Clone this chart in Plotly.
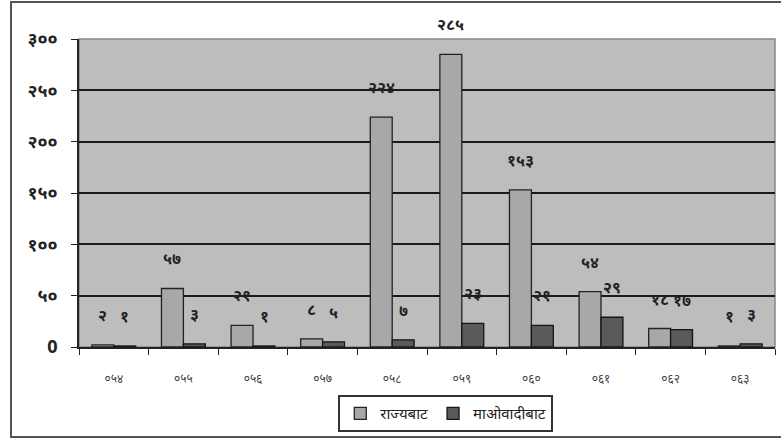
import plotly.graph_objects as go

categories = ["०५४", "०५५", "०५६", "०५७", "०५८", "०५९", "०६०", "०६१", "०६२", "०६३"]
state_vals = [2, 57, 21, 8, 224, 285, 153, 54, 18, 1]
maoist_vals = [1, 3, 1, 5, 7, 23, 21, 29, 17, 3]
state_name = "राज्यबाट"
maoist_name = "माओवादीबाट"
y_tickvals = [0, 50, 100, 150, 200, 250, 300]
y_ticktext = ["0", "५०", "१००", "१५०", "२००", "२५०", "३००"]

dev_digits = str.maketrans("0123456789", "०१२३४५६७८९")

def dev(n):
    return str(n).translate(dev_digits)

FONT = "Noto Sans, Noto Sans CJK SC, sans-serif"

fig = go.Figure()
fig.add_trace(go.Bar(
    x=categories, y=state_vals, name=state_name,
    marker=dict(color="#a8a8a8", line=dict(color="#222222", width=1.3)),
))
fig.add_trace(go.Bar(
    x=categories, y=maoist_vals, name=maoist_name,
    marker=dict(color="#5a5a5a", line=dict(color="#151515", width=1.3)),
))

for c, v in zip(categories, state_vals):
    fig.add_annotation(x=c, y=v, text="<b>%s</b>" % dev(v), showarrow=False,
                       xshift=-11, yshift=30, font=dict(size=16, color="#222", family=FONT))
for c, v in zip(categories, maoist_vals):
    fig.add_annotation(x=c, y=v, text="<b>%s</b>" % dev(v), showarrow=False,
                       xshift=11, yshift=30, font=dict(size=16, color="#222", family=FONT))

# outer frame
fig.add_shape(type="rect", xref="paper", yref="paper",
              x0=(11 - 79) / 696, x1=(790 - 79) / 696,
              y0=(347 - 437) / 308, y1=(347 - 2) / 308,
              line=dict(color="#555555", width=2), layer="below")

fig.update_layout(
    width=781, height=439,
    margin=dict(l=79, r=6, t=39, b=92),
    paper_bgcolor="white",
    plot_bgcolor="#bdbdbd",
    barmode="group", bargap=0.37, bargroupgap=0,
    font=dict(family=FONT, color="#222"),
    showlegend=True,
    legend=dict(orientation="h", x=0.527, xanchor="center", y=-0.156, yanchor="top",
                bordercolor="#333", borderwidth=2, bgcolor="white",
                font=dict(size=15, color="#222"), itemwidth=30),
    xaxis=dict(showline=True, linecolor="#222", linewidth=1.5, mirror=False,
               ticks="outside", tickson="boundaries", ticklen=6, tickcolor="#222",
               tickfont=dict(size=12, color="#444"), ticklabelstandoff=20, automargin=False),
    yaxis=dict(range=[0, 300], tickvals=y_tickvals, ticktext=["<b>%s</b>" % t for t in y_ticktext],
               showline=True, linecolor="#222", linewidth=1.5,
               ticks="outside", ticklen=6, tickcolor="#222",
               gridcolor="#1a1a1a", gridwidth=1.5, zeroline=False,
               tickfont=dict(size=18, color="#222"), ticklabelstandoff=10, automargin=False),
)
fig.add_shape(type="rect", xref="paper", yref="paper", x0=0, x1=1, y0=0, y1=1,
              line=dict(color="#888888", width=1.5), layer="below")

fig.write_html("out.html", config={"displayModeBar": False},
               post_script="document.body.style.margin='0';document.body.style.overflow='hidden';")
